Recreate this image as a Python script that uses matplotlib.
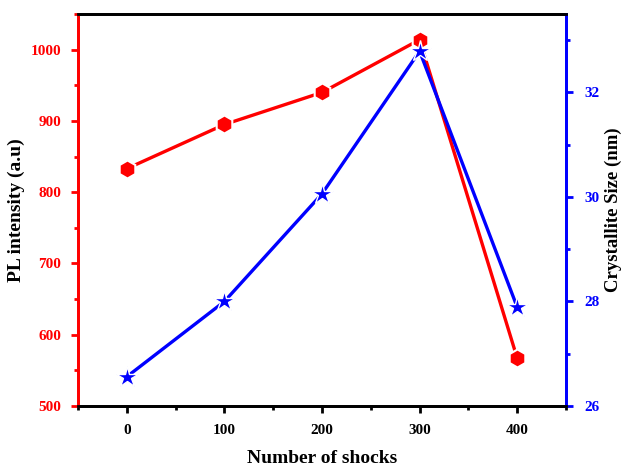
import matplotlib.pyplot as plt
from matplotlib.ticker import MultipleLocator

shocks = [0, 100, 200, 300, 400]
pl_intensity = [833, 895, 940, 1014, 567]
crystallite_size = [26.56, 28.0, 30.06, 32.79, 27.89]

plt.rcParams['font.family'] = ['Liberation Serif', 'DejaVu Serif']
plt.rcParams['font.weight'] = 'bold'

fig = plt.figure(figsize=(6.22, 4.68), dpi=100)
ax = fig.add_axes([0.1254, 0.1325, 0.7846, 0.8375])
ax2 = ax.twinx()

ax.plot(shocks, pl_intensity, '-', color='red', lw=2.4, marker='h', ms=13,
        mfc='red', mec='white', mew=1.5)
ax2.plot(shocks, crystallite_size, '-', color='blue', lw=2.4, marker='*', ms=16,
         mfc='blue', mec='white', mew=1.0)

ax.set_xlim(-50, 450)
ax.set_ylim(500, 1050)
ax2.set_ylim(26, 33.5)

ax.xaxis.set_major_locator(MultipleLocator(100))
ax.xaxis.set_minor_locator(MultipleLocator(50))
ax.yaxis.set_major_locator(MultipleLocator(100))
ax.yaxis.set_minor_locator(MultipleLocator(50))
ax2.yaxis.set_major_locator(MultipleLocator(2))
ax2.yaxis.set_minor_locator(MultipleLocator(1))

for a in (ax, ax2):
    for s in a.spines.values():
        s.set_linewidth(2)
ax.spines['left'].set_color('red')
ax2.spines['left'].set_color('red')
ax2.spines['right'].set_color('blue')
ax.spines['right'].set_color('blue')

ax.tick_params(axis='x', which='major', length=5, width=2, labelsize=11, pad=8)
ax.tick_params(axis='x', which='minor', length=3, width=2)
ax.tick_params(axis='y', which='major', length=5, width=2, colors='red', labelsize=11, pad=7)
ax.tick_params(axis='y', which='minor', length=3, width=2, colors='red')
ax2.tick_params(axis='y', which='major', length=5, width=2, colors='blue', labelsize=11, pad=8)
ax2.tick_params(axis='y', which='minor', length=3, width=2, colors='blue')

for lab in ax.get_xticklabels() + ax.get_yticklabels() + ax2.get_yticklabels():
    lab.set_fontweight('bold')

ax.set_xlabel('Number of shocks', fontsize=14, fontweight='bold', labelpad=9)
ax.set_ylabel('PL intensity (a.u)', fontsize=14, fontweight='bold', labelpad=4)
ax2.set_ylabel('Crystallite Size (nm)', fontsize=13.5, fontweight='bold', labelpad=4)

fig.savefig('out.png', dpi=100)
